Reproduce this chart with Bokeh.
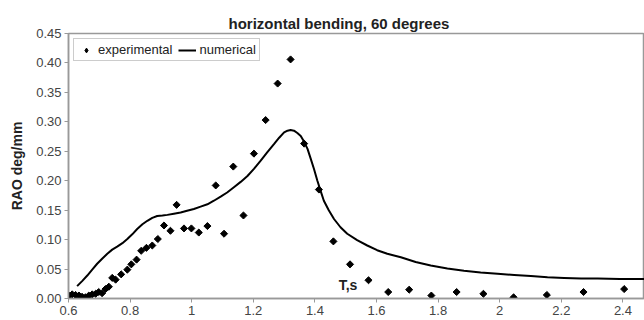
import math
from bokeh.plotting import figure
from bokeh.models import Range1d, FixedTicker, NumeralTickFormatter, Label, Legend, LegendItem
from bokeh.embed import file_html
from bokeh.resources import INLINE

FONT = "Liberation Sans"

# experimental points (T, RAO)
exp_T = [0.601, 0.612, 0.623, 0.634, 0.644, 0.655, 0.666, 0.677, 0.688, 0.698,
         0.709, 0.720, 0.731, 0.742, 0.753, 0.771, 0.791, 0.804, 0.821, 0.836,
         0.853, 0.872, 0.890, 0.910, 0.931, 0.951, 0.975, 0.999, 1.023, 1.051,
         1.078, 1.105, 1.135, 1.168, 1.202, 1.240, 1.279, 1.321, 1.365, 1.413,
         1.460, 1.514, 1.574, 1.638, 1.706, 1.778, 1.860, 1.947, 2.045, 2.153,
         2.272, 2.404]
exp_RAO = [0.005, 0.007, 0.006, 0.005, 0.003, 0.002, 0.005, 0.007, 0.008, 0.011,
           0.009, 0.016, 0.020, 0.035, 0.032, 0.041, 0.049, 0.058, 0.066, 0.081,
           0.086, 0.090, 0.101, 0.124, 0.115, 0.159, 0.119, 0.119, 0.112, 0.123,
           0.192, 0.110, 0.224, 0.141, 0.246, 0.303, 0.365, 0.406, 0.263, 0.185,
           0.097, 0.058, 0.031, 0.011, 0.015, 0.005, 0.011, 0.008, 0.002, 0.006,
           0.011, 0.016]

# numerical curve (T, RAO)
num_T = [0.628, 0.645, 0.661, 0.677, 0.693, 0.710, 0.726, 0.742, 0.758, 0.775,
         0.791, 0.807, 0.823, 0.840, 0.856, 0.872, 0.888, 0.905, 0.921, 0.942,
         0.964, 0.985, 1.007, 1.029, 1.051, 1.072, 1.094, 1.115, 1.137, 1.159,
         1.181, 1.202, 1.224, 1.245, 1.267, 1.284, 1.300, 1.311, 1.321, 1.332,
         1.343, 1.354, 1.365, 1.376, 1.386, 1.397, 1.408, 1.419, 1.429, 1.445,
         1.462, 1.483, 1.505, 1.537, 1.570, 1.602, 1.635, 1.679, 1.727, 1.776,
         1.830, 1.884, 1.938, 1.993, 2.047, 2.101, 2.155, 2.209, 2.264, 2.318,
         2.390, 2.469]
num_RAO = [0.021, 0.030, 0.039, 0.049, 0.059, 0.068, 0.076, 0.083, 0.088, 0.094,
           0.101, 0.109, 0.118, 0.126, 0.132, 0.137, 0.140, 0.141, 0.142, 0.144,
           0.146, 0.149, 0.152, 0.156, 0.160, 0.166, 0.173, 0.180, 0.189, 0.198,
           0.208, 0.220, 0.234, 0.248, 0.262, 0.273, 0.282, 0.285, 0.286, 0.285,
           0.281, 0.276, 0.266, 0.254, 0.238, 0.220, 0.200, 0.182, 0.166, 0.150,
           0.135, 0.121, 0.110, 0.099, 0.090, 0.082, 0.076, 0.070, 0.062, 0.056,
           0.051, 0.047, 0.044, 0.042, 0.040, 0.038, 0.036, 0.035, 0.034, 0.034,
           0.033, 0.033]

x_ticks = [0.6, 0.8, 1.0, 1.2, 1.4, 1.6, 1.8, 2.0, 2.2, 2.4]
x_tick_labels = ["0.6", "0.8", "1", "1.2", "1.4", "1.6", "1.8", "2", "2.2", "2.4"]
y_ticks = [0.0, 0.05, 0.10, 0.15, 0.20, 0.25, 0.30, 0.35, 0.40, 0.45]

p = figure(width=644, height=320, output_backend="svg", toolbar_location=None,
           x_range=Range1d(0.6, 2.47), y_range=Range1d(0, 0.45),
           title="horizontal bending, 60 degrees",
           min_border_left=68, min_border_right=0, min_border_top=33, min_border_bottom=22)

p.title.text_font = FONT
p.title.text_font_size = "15px"
p.title.text_font_style = "bold"
p.title.text_color = "#222222"
p.title.align = "left"
p.title.offset = 160
p.title.standoff = 3

p.grid.visible = False
p.outline_line_color = "#999999"
p.outline_line_width = 1.5
p.background_fill_color = "white"
p.border_fill_color = "white"

for ax in (p.xaxis[0], p.yaxis[0]):
    ax.axis_line_color = "#999999"
    ax.axis_line_width = 1.5
    ax.major_tick_line_color = "#999999"
    ax.major_tick_in = 0
    ax.major_tick_out = 4
    ax.minor_tick_line_color = None
    ax.major_label_text_font = FONT
    ax.major_label_text_font_size = "13px"
    ax.major_label_text_color = "#444444"
    ax.major_label_standoff = 3

p.xaxis.ticker = FixedTicker(ticks=x_ticks)
p.xaxis.major_label_overrides = {t: l for t, l in zip(x_ticks, x_tick_labels)}
p.yaxis.ticker = FixedTicker(ticks=y_ticks)
p.yaxis.formatter = NumeralTickFormatter(format="0.00")

p.yaxis.axis_label = "RAO deg/mm"
p.yaxis.axis_label_text_font = FONT
p.yaxis.axis_label_text_font_size = "14px"
p.yaxis.axis_label_text_font_style = "bold"
p.yaxis.axis_label_text_color = "#222222"
p.yaxis.axis_label_standoff = 8

r_exp = p.scatter(exp_T, exp_RAO, marker="square", angle=math.pi / 4, size=5, color="black")
r_num = p.line(num_T, num_RAO, line_color="black", line_width=2)
# legend key only (not drawn in the plot): a diamond, since legends ignore marker angle
r_exp_key = p.scatter([math.nan], [math.nan], marker="diamond", size=8, color="black")

p.add_layout(Label(x=1.477, y=0.010, text="T,s", text_font=FONT, text_font_size="14px",
                   text_font_style="bold", text_color="#222222"))

legend = Legend(items=[LegendItem(label="experimental", renderers=[r_exp_key]),
                       LegendItem(label="numerical", renderers=[r_num])],
                location="top_left", orientation="horizontal")
legend.label_text_font = FONT
legend.label_text_font_size = "13px"
legend.label_text_color = "#222222"
legend.border_line_color = "#999999"
legend.glyph_width = 18
legend.glyph_height = 12
legend.label_height = 12
legend.label_standoff = 3
legend.spacing = 6
legend.padding = 3
legend.margin = 5
p.add_layout(legend)

open("out.html", "w").write(file_html(p, INLINE))
